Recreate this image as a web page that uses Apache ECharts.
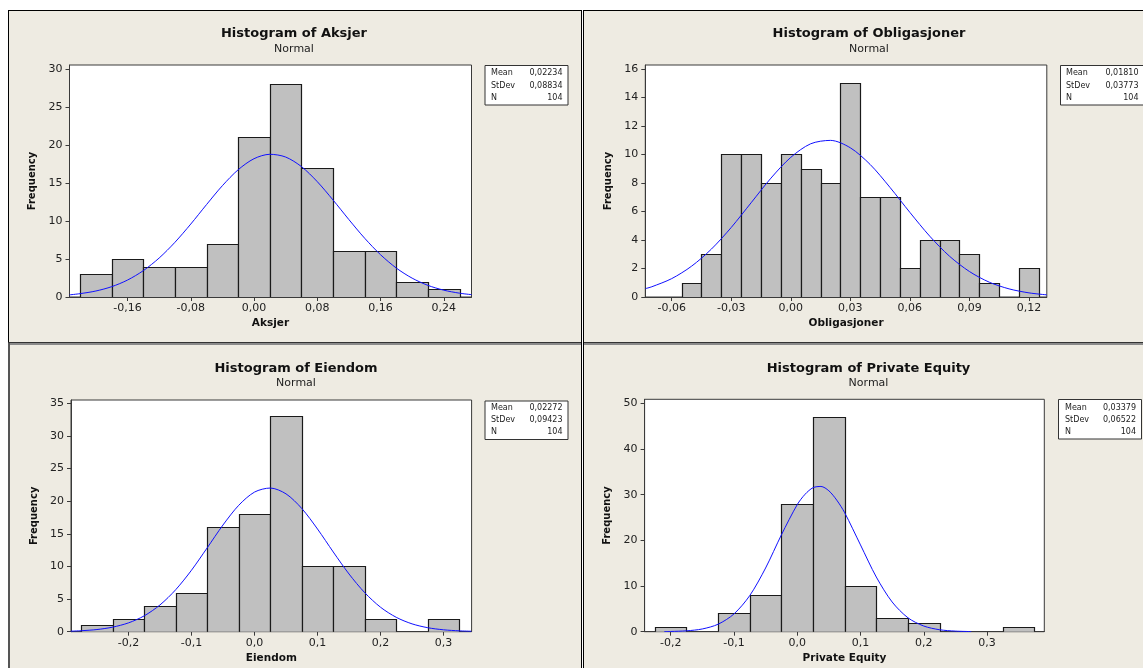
<!DOCTYPE html>
<html><head><meta charset="utf-8">
<script src="https://cdn.jsdelivr.net/npm/echarts@6/dist/echarts.min.js"></script>
<style>html,body{margin:0;padding:0;background:#fff}#c{width:1143px;height:668px}</style>
</head><body><div id="c"></div>
<script>
// ---------- DATA ----------
// Aksjer
const aksjerBinCenters = [-0.20,-0.16,-0.12,-0.08,-0.04,0.00,0.04,0.08,0.12,0.16,0.20,0.24];
const aksjerCounts     = [3,5,4,4,7,21,28,17,6,6,2,1];
const aksjerBinWidth   = 0.04;
const aksjerCurveX = [-0.2334,-0.22,-0.20,-0.18,-0.16,-0.14,-0.12,-0.10,-0.08,-0.06,-0.04,-0.02,0.00,0.02,0.04,0.06,0.08,0.10,0.12,0.14,0.16,0.18,0.20,0.22,0.24,0.26,0.2751];
const aksjerCurveY = [0.28,0.44,0.79,1.36,2.23,3.47,5.13,7.20,9.60,12.17,14.65,16.75,18.20,18.78,18.42,17.16,15.18,12.76,10.19,7.73,5.57,3.81,2.48,1.53,0.90,0.50,0.31];
const aksjerXTicks = [-0.16,-0.08,0.00,0.08,0.16,0.24];
const aksjerYTicks = [0,5,10,15,20,25,30];
const aksjerStats  = ['0,02234','0,08834','104'];

// Obligasjoner
const obligBinCenters = [-0.05,-0.04,-0.03,-0.02,-0.01,0.00,0.01,0.02,0.03,0.04,0.05,0.06,0.07,0.08,0.09,0.10,0.11,0.12];
const obligCounts     = [1,3,10,10,8,10,9,8,15,7,7,2,4,4,3,1,0,2];
const obligBinWidth   = 0.01;
const obligCurveX = [-0.0732,-0.07,-0.06,-0.05,-0.04,-0.03,-0.02,-0.01,0.00,0.01,0.02,0.03,0.04,0.05,0.06,0.07,0.08,0.09,0.10,0.11,0.12,0.129];
const obligCurveY = [0.59,0.72,1.29,2.16,3.36,4.88,6.61,8.34,9.80,10.75,10.99,10.47,9.30,7.69,5.94,4.27,2.86,1.79,1.04,0.57,0.29,0.15];
const obligXTicks = [-0.06,-0.03,0.00,0.03,0.06,0.09,0.12];
const obligYTicks = [0,2,4,6,8,10,12,14,16];
const obligStats  = ['0,01810','0,03773','104'];

// Eiendom
const eiendomBinCenters = [-0.25,-0.20,-0.15,-0.10,-0.05,0.00,0.05,0.10,0.15,0.20,0.25,0.30];
const eiendomCounts     = [1,2,4,6,16,18,33,10,10,2,0,2];
const eiendomBinWidth   = 0.05;
const eiendomCurveX = [-0.2915,-0.275,-0.25,-0.225,-0.2,-0.175,-0.15,-0.125,-0.1,-0.075,-0.05,-0.025,0,0.025,0.05,0.075,0.1,0.125,0.15,0.175,0.2,0.225,0.25,0.275,0.3,0.325,0.344];
const eiendomCurveY = [0.08,0.15,0.33,0.70,1.35,2.43,4.10,6.44,9.42,12.86,16.35,19.37,21.39,22.01,21.12,18.88,15.73,12.21,8.84,5.97,3.75,2.20,1.20,0.61,0.29,0.13,0.07];
const eiendomXTicks = [-0.2,-0.1,0.0,0.1,0.2,0.3];
const eiendomYTicks = [0,5,10,15,20,25,30,35];
const eiendomStats  = ['0,02272','0,09423','104'];

// Private Equity
const peBinCenters = [-0.20,-0.15,-0.10,-0.05,0.00,0.05,0.10,0.15,0.20,0.25,0.30,0.35];
const peCounts     = [1,0,4,8,28,47,10,3,2,0,0,1];
const peBinWidth   = 0.05;
const peCurveX = [-0.21,-0.2,-0.175,-0.15,-0.125,-0.1,-0.075,-0.05,-0.025,0,0.0125,0.025,0.0375,0.05,0.0625,0.075,0.1,0.125,0.15,0.175,0.2,0.225,0.25,0.275];
const peCurveY = [0.03,0.05,0.19,0.60,1.64,3.88,7.91,13.94,21.20,27.81,30.10,31.53,31.80,30.85,28.80,26.05,19.00,11.97,6.51,3.05,1.24,0.43,0.13,0.03];
const peXTicks = [-0.2,-0.1,0.0,0.1,0.2,0.3];
const peYTicks = [0,10,20,30,40,50];
const peStats  = ['0,03379','0,06522','104'];

const statLabels = ['Mean','StDev','N'];

// ---------- BUILD ----------
const FONT = '"DejaVu Sans", Verdana, sans-serif';
const panels = [
  {title:'Histogram of Aksjer', xname:'Aksjer', c:aksjerBinCenters, n:aksjerCounts, w:aksjerBinWidth, cx:aksjerCurveX, cy:aksjerCurveY, xt:aksjerXTicks, yt:aksjerYTicks, st:aksjerStats, dec:2,
   xMin:-0.2334, xMax:0.2751, yMax:30.53, grid:{left:69.5, top:65, width:402, height:232}, tx:294, ty:34,
   box:{x:485, y:65.5, w:83, h:39.5}, boxRows:[73,85.5,97.5], boxL:491, boxR:562.5},
  {title:'Histogram of Obligasjoner', xname:'Obligasjoner', c:obligBinCenters, n:obligCounts, w:obligBinWidth, cx:obligCurveX, cy:obligCurveY, xt:obligXTicks, yt:obligYTicks, st:obligStats, dec:2,
   xMin:-0.0733, xMax:0.129, yMax:16.28, grid:{left:645.3, top:65, width:401.5, height:232}, tx:869, ty:34,
   box:{x:1060.5, y:65.5, w:100, h:39.5}, boxRows:[73,85.5,97.5], boxL:1066, boxR:1138.5},
  {title:'Histogram of Eiendom', xname:'Eiendom', c:eiendomBinCenters, n:eiendomCounts, w:eiendomBinWidth, cx:eiendomCurveX, cy:eiendomCurveY, xt:eiendomXTicks, yt:eiendomYTicks, st:eiendomStats, dec:1,
   xMin:-0.2912, xMax:0.3445, yMax:35.5, grid:{left:71, top:400, width:400.6, height:231.7}, tx:296, ty:368.5,
   box:{x:485, y:401, w:83, h:38.5}, boxRows:[408,420,432], boxL:491, boxR:562.5},
  {title:'Histogram of Private Equity', xname:'Private Equity', c:peBinCenters, n:peCounts, w:peBinWidth, cx:peCurveX, cy:peCurveY, xt:peXTicks, yt:peYTicks, st:peStats, dec:1,
   xMin:-0.2412, xMax:0.3905, yMax:50.88, grid:{left:644.6, top:399.3, width:399.7, height:232.4}, tx:868.5, ty:368.5,
   box:{x:1058.5, y:399.5, w:83, h:39.5}, boxRows:[408,420,432], boxL:1065, boxR:1136}
];

function fmt(dec){
  return function(v){
    let s = Number(v).toFixed(dec).replace('.', ',');
    if (/^-0,0+$/.test(s)) s = s.slice(1);
    return s;
  };
}
function binRender(width){
  return function(params, api){
    const c = api.value(0), n = api.value(1);
    const p0 = api.coord([c - width/2, n]);
    const p1 = api.coord([c + width/2, 0]);
    return {type:'rect',
      shape:{x:Math.round(p0[0])+0.5, y:Math.round(p0[1])+0.5, width:Math.round(p1[0])-Math.round(p0[0]), height:Math.round(p1[1])-Math.round(p0[1])},
      style:{fill:'#c0c0c0', stroke:'#1a1a1a', lineWidth:1.2}};
  };
}

const grids=[], xAxes=[], yAxes=[], series=[], graphics=[];

graphics.push(
  {type:'rect', shape:{x:0,y:0,width:1143,height:10}, style:{fill:'#ffffff'}, silent:true},
  {type:'rect', shape:{x:0,y:0,width:8,height:668}, style:{fill:'#ffffff'}, silent:true},
  {type:'rect', shape:{x:8,y:10,width:573,height:1}, style:{fill:'#000'}, silent:true},
  {type:'rect', shape:{x:583,y:10,width:560,height:1}, style:{fill:'#000'}, silent:true},
  {type:'rect', shape:{x:8,y:10,width:1,height:333}, style:{fill:'#000'}, silent:true},
  {type:'rect', shape:{x:581,y:10,width:1,height:658}, style:{fill:'#000'}, silent:true},
  {type:'rect', shape:{x:582,y:10,width:1,height:658}, style:{fill:'#ffffff'}, silent:true},
  {type:'rect', shape:{x:583,y:10,width:1,height:658}, style:{fill:'#000'}, silent:true},
  {type:'rect', shape:{x:8,y:342,width:573,height:1}, style:{fill:'#333'}, silent:true},
  {type:'rect', shape:{x:8,y:343,width:573,height:2}, style:{fill:'#8a8a8a'}, silent:true},
  {type:'rect', shape:{x:584,y:342,width:559,height:1}, style:{fill:'#333'}, silent:true},
  {type:'rect', shape:{x:584,y:343,width:559,height:2}, style:{fill:'#8a8a8a'}, silent:true},
  {type:'rect', shape:{x:8,y:343,width:2,height:325}, style:{fill:'#555'}, silent:true}
);

panels.forEach((p,i)=>{
  grids.push(Object.assign({show:true, backgroundColor:'#ffffff', borderColor:'#3a3a3a', borderWidth:1, containLabel:false, outerBoundsMode:'none'}, p.grid));
  xAxes.push({type:'value', gridIndex:i, min:p.xMin, max:p.xMax, position:'bottom',
    name:p.xname, nameLocation:'middle', nameGap:21, nameMoveOverlap:false,
    nameTextStyle:{fontFamily:FONT, fontWeight:'bold', fontSize:10.5, color:'#111'},
    axisLine:{show:true, onZero:false, lineStyle:{color:'#3a3a3a', width:1}},
    axisTick:{show:true, length:4, customValues:p.xt, lineStyle:{color:'#3a3a3a'}},
    axisLabel:{customValues:p.xt, formatter:fmt(p.dec), margin:6, fontFamily:FONT, fontSize:11, color:'#222'},
    splitLine:{show:false}});
  yAxes.push({type:'value', gridIndex:i, min:0, max:p.yMax, position:'left',
    name:'Frequency', nameLocation:'middle', nameGap:32, nameMoveOverlap:false,
    nameTextStyle:{fontFamily:FONT, fontWeight:'bold', fontSize:10, color:'#111'},
    axisLine:{show:true, onZero:false, lineStyle:{color:'#3a3a3a', width:1}},
    axisTick:{show:true, length:4, customValues:p.yt, lineStyle:{color:'#3a3a3a'}},
    axisLabel:{customValues:p.yt, margin:7, fontFamily:FONT, fontSize:11, color:'#222'},
    splitLine:{show:false}});
  series.push({type:'custom', xAxisIndex:i, yAxisIndex:i, renderItem:binRender(p.w), encode:{x:0,y:1}, z:2, clip:true,
    data:p.c.map((c,k)=>[c,p.n[k]]), silent:true, animation:false});
  series.push({type:'line', xAxisIndex:i, yAxisIndex:i, smooth:0.3, symbol:'none', z:3, clip:true,
    lineStyle:{color:'#1010ff', width:1}, data:p.cx.map((x,k)=>[x,p.cy[k]]), silent:true, animation:false});
  graphics.push({type:'text', style:{text:p.title, x:p.tx, y:p.ty, align:'center', verticalAlign:'middle', font:'bold 13px '+FONT, fill:'#111'}, silent:true});
  graphics.push({type:'text', style:{text:'Normal', x:p.tx, y:p.ty+15, align:'center', verticalAlign:'middle', font:'11px '+FONT, fill:'#222'}, silent:true});
  graphics.push({type:'rect', shape:{x:p.box.x, y:p.box.y, width:p.box.w, height:p.box.h}, style:{fill:'#ffffff', stroke:'#333', lineWidth:1}, silent:true});
  statLabels.forEach((lab,k)=>{
    graphics.push({type:'text', style:{text:lab, x:p.boxL, y:p.boxRows[k], align:'left', verticalAlign:'middle', font:'8px '+FONT, fill:'#222'}, silent:true});
    graphics.push({type:'text', style:{text:p.st[k], x:p.boxR, y:p.boxRows[k], align:'right', verticalAlign:'middle', font:'8px '+FONT, fill:'#222'}, silent:true});
  });
});

const chart = echarts.init(document.getElementById('c'));
chart.setOption({
  backgroundColor:'#eeebe2',
  animation:false,
  grid:grids, xAxis:xAxes, yAxis:yAxes, series:series,
  graphic:{elements:graphics}
});
</script></body></html>
